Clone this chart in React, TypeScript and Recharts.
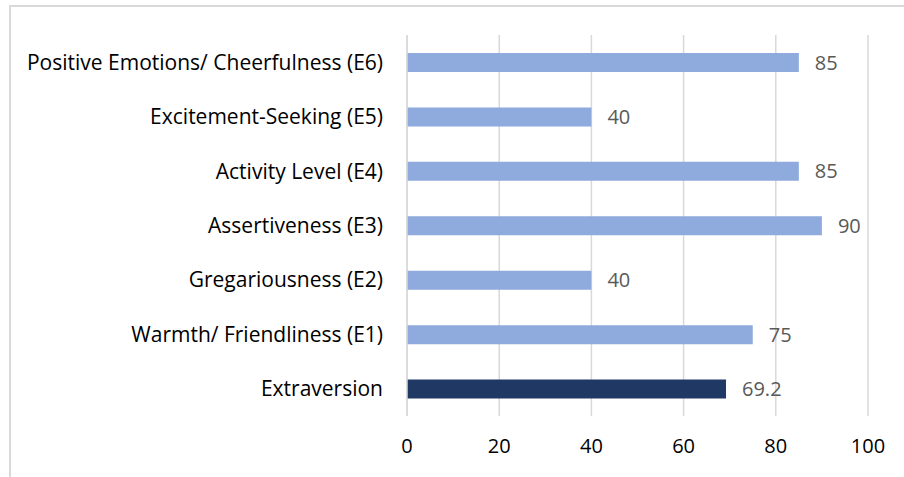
import { BarChart, Bar, XAxis, YAxis, CartesianGrid, Cell, LabelList } from 'recharts';

const traits = [
  'Positive Emotions/ Cheerfulness (E6)',
  'Excitement-Seeking (E5)',
  'Activity Level (E4)',
  'Assertiveness (E3)',
  'Gregariousness (E2)',
  'Warmth/ Friendliness (E1)',
  'Extraversion',
];
const scores = [85, 40, 85, 90, 40, 75, 69.2];
const xTicks = [0, 20, 40, 60, 80, 100];
const summaryTrait = 'Extraversion';

const data = traits.map((name, i) => ({ name, score: scores[i] }));

const FONT = '"Open Sans", sans-serif';

export default function App() {
  return (
    <div style={{ position: 'fixed', left: 0, top: 0, width: 904, height: 477, overflow: 'hidden', background: '#fff' }}>
      <div
        style={{
          position: 'absolute',
          left: 9,
          top: 5,
          width: 1000,
          height: 1000,
          border: '2px solid #d9d9d9',
        }}
      />
      <div style={{ position: 'absolute', left: 0, top: 0 }}>
        <BarChart
          width={904}
          height={477}
          data={data}
          layout="vertical"
          margin={{ top: 35, right: 36, bottom: 31, left: 0 }}
          barCategoryGap={0}
        >
          <CartesianGrid horizontal={false} stroke="#d9d9d9" strokeWidth={1.5} />
          <XAxis
            type="number"
            domain={[0, 100]}
            ticks={xTicks}
            height={30}
            axisLine={false}
            tickLine={false}
            tickSize={0}
            tickMargin={23}
            tick={{ fontSize: 20, fill: '#000', fontFamily: FONT }}
            interval={0}
          />
          <YAxis
            type="category"
            dataKey="name"
            width={407}
            axisLine={{ stroke: '#d9d9d9', strokeWidth: 1.5 }}
            tickLine={false}
            tickSize={0}
            tickMargin={24}
            tick={{ fontSize: 21, fill: '#000', fontFamily: FONT }}
            interval={0}
          />
          <Bar dataKey="score" barSize={19} isAnimationActive={false}>
            {data.map((d) => (
              <Cell key={d.name} fill={d.name === summaryTrait ? '#203864' : '#8faadc'} />
            ))}
            <LabelList
              dataKey="score"
              position="right"
              offset={16}
              style={{ fontSize: 20, fill: '#595959', fontFamily: FONT }}
            />
          </Bar>
        </BarChart>
      </div>
    </div>
  );
}
